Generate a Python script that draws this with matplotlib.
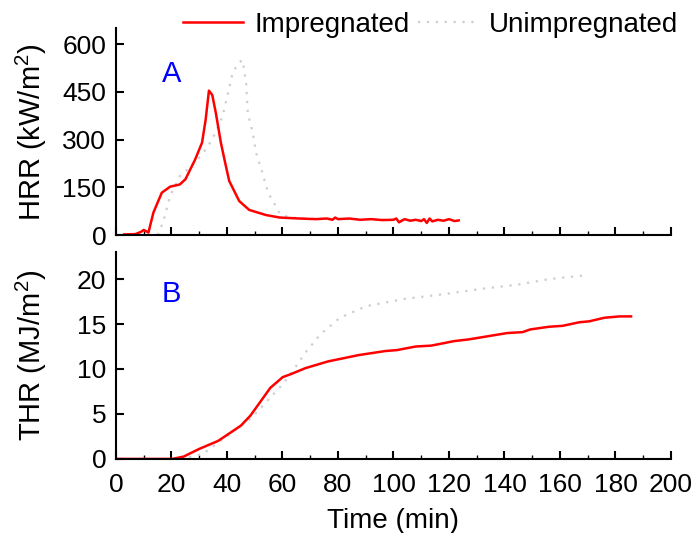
import matplotlib
matplotlib.use("Agg")
import matplotlib.pyplot as plt
from matplotlib.ticker import MultipleLocator

plt.rcParams['font.family'] = ['Liberation Sans', 'DejaVu Sans']
plt.rcParams['mathtext.default'] = 'regular'
plt.rcParams['font.size'] = 19

# HRR data (kW/m2)
hrr_imp_t = [3, 7, 9, 10, 11.7, 13.5, 16.5, 19.5, 23, 25, 28.5, 31, 32.3, 33.5, 34.7, 36,
             37.8, 39.6, 40.8, 44.4, 48, 54, 59, 66, 72, 76, 78, 79, 80, 84, 88, 92, 96,
             100, 101, 102, 104, 106, 108, 110, 111, 112, 113, 114, 116, 118, 120, 122, 123.5]
hrr_imp_v = [2, 3, 10, 16, 8, 71, 133, 152, 159, 175, 237, 290, 362, 454, 440, 383,
             290, 217, 170, 107, 79, 63, 55, 52, 50, 52, 48, 55, 50, 52, 48, 50, 47,
             48, 52, 40, 50, 45, 48, 44, 50, 38, 52, 43, 48, 45, 50, 44, 46]
hrr_un_t = [15, 17, 19.5, 23, 25, 28, 31, 34.7, 38.4, 40.2, 42, 44, 45.6, 46.9, 47.5,
            49.3, 50.5, 52.4, 54.8, 57.2, 59, 62.6, 70, 80, 90, 100, 110]
hrr_un_v = [0, 40, 123, 185, 200, 225, 253, 300, 373, 440, 508, 540, 550, 477, 383,
            321, 258, 206, 133, 97, 67, 55, 52, 50, 50, 48, 48]

# THR data (MJ/m2)
thr_imp_t = [0, 20.3, 24.4, 29.9, 36.8, 45, 48.4, 51.9, 55.6, 60.1, 62.8, 68.3, 76.5,
             87.5, 97.1, 101.2, 108, 113.6, 121.8, 127.3, 141, 146.5, 149.3, 156.1,
             160.9, 167, 170.5, 176, 181.5, 185.6]
thr_imp_v = [0, 0, 0.26, 1.1, 2.0, 3.7, 4.8, 6.3, 7.9, 9.1, 9.4, 10.1, 10.85,
             11.55, 12.0, 12.1, 12.5, 12.6, 13.1, 13.3, 14.0, 14.1, 14.4, 14.7,
             14.8, 15.2, 15.3, 15.7, 15.85, 15.85]
thr_un_t = [20, 25, 31.3, 39.5, 49, 54.6, 60.1, 64.2, 68.3, 73.8, 80.7, 90.3, 104,
            117.7, 131.4, 145.1, 156.1, 168.6]
thr_un_v = [0, 0.1, 0.55, 2.4, 4.6, 6.5, 8.3, 10, 11.85, 13.9, 15.7, 17.0, 17.8,
            18.3, 18.9, 19.4, 20.0, 20.4]

red = '#ff0000'
gray = '#cdcdcd'
gray_ls = (0, (1, 3))

fig = plt.figure(figsize=(6.97, 5.33), dpi=100)
ax1 = fig.add_axes([0.1664, 0.559, 0.7963, 0.388])
ax2 = fig.add_axes([0.1664, 0.139, 0.7963, 0.388])

ax1.plot(hrr_un_t, hrr_un_v, color=gray, lw=1.6, ls=gray_ls, label='Unimpregnated')
ax1.plot(hrr_imp_t, hrr_imp_v, color=red, lw=1.8, label='Impregnated')
ax2.plot(thr_un_t, thr_un_v, color=gray, lw=1.6, ls=gray_ls)
ax2.plot(thr_imp_t, thr_imp_v, color=red, lw=1.8)

ax1.set_ylim(0, 650)
ax1.set_yticks([0, 150, 300, 450, 600])
ax2.set_ylim(0, 23)
ax2.set_yticks([0, 5, 10, 15, 20])

for ax in (ax1, ax2):
    ax.set_xlim(0, 200)
    ax.xaxis.set_major_locator(MultipleLocator(20))
    ax.xaxis.set_minor_locator(MultipleLocator(10))
    ax.spines['top'].set_visible(False)
    ax.spines['right'].set_visible(False)
    ax.spines['left'].set_linewidth(1.5)
    ax.spines['bottom'].set_linewidth(1.5)
    ax.tick_params(which='major', direction='in', length=6, width=1.5, labelsize=19)
    ax.tick_params(which='minor', direction='in', length=3, width=1)
    ax.tick_params(axis='y', which='minor', left=False)
    ax.tick_params(axis='y', pad=7)
    ax.tick_params(axis='x', pad=10)

ax1.tick_params(axis='x', labelbottom=False)

ax1.set_ylabel('HRR (kW/m$^2$)', fontsize=21)
ax2.set_ylabel('THR (MJ/m$^2$)', fontsize=21)
ax1.yaxis.set_label_coords(-0.12, 0.5)
ax2.yaxis.set_label_coords(-0.12, 0.5)
ax2.set_xlabel('Time (min)', fontsize=20, labelpad=8)

ax1.text(0.083, 0.74, 'A', color='blue', fontsize=21, transform=ax1.transAxes)
ax2.text(0.083, 0.76, 'B', color='blue', fontsize=21, transform=ax2.transAxes)

handles, labels = ax1.get_legend_handles_labels()
fig.legend(handles[::-1], labels[::-1], loc='center', bbox_to_anchor=(0.618, 0.953),
           ncol=2, frameon=False, fontsize=20, handlelength=2.15,
           handletextpad=0.4, columnspacing=0.3, borderpad=0)

fig.savefig('out.png', dpi=100)
